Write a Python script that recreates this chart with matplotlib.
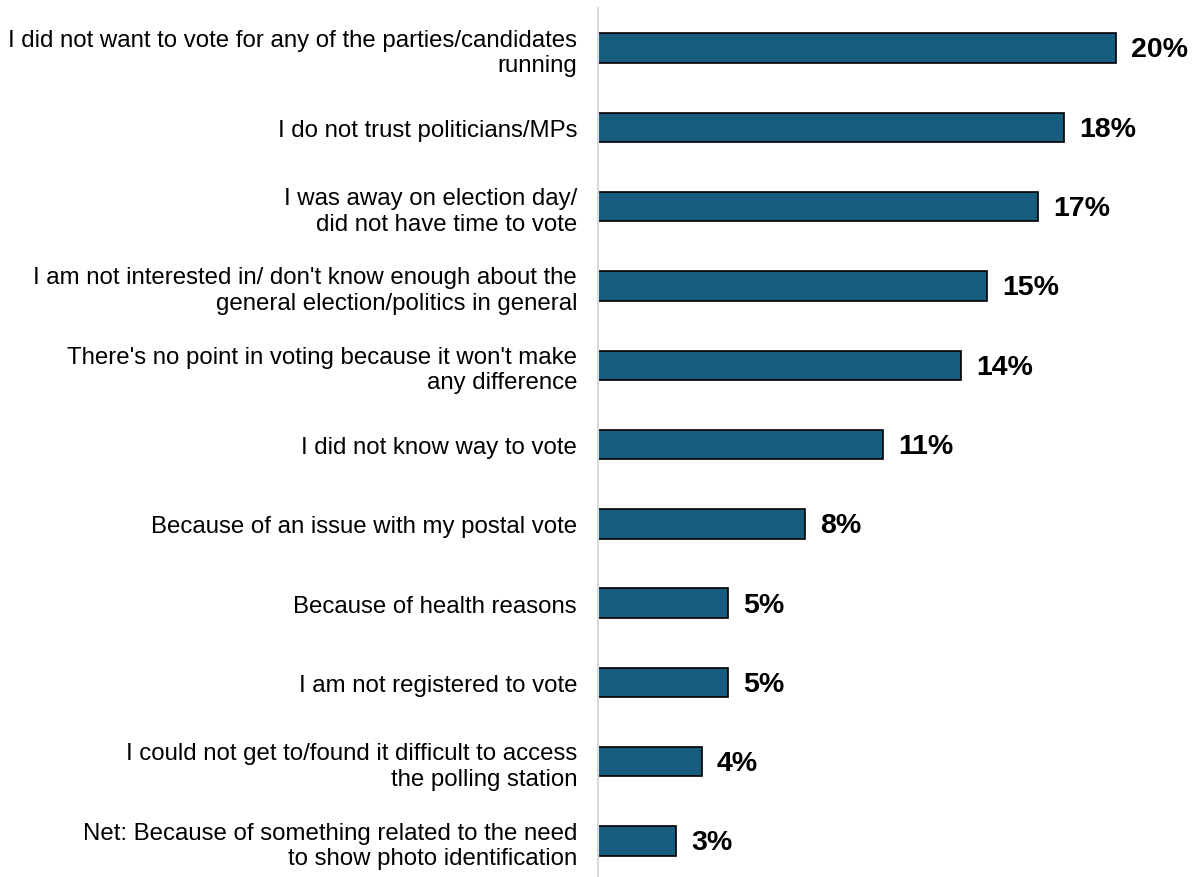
import matplotlib
matplotlib.use('Agg')
import matplotlib.pyplot as plt

# reasons for not voting, top to bottom
reasons = [
    "I did not want to vote for any of the parties/candidates\nrunning",
    "I do not trust politicians/MPs",
    "I was away on election day/\ndid not have time to vote",
    "I am not interested in/ don't know enough about the\ngeneral election/politics in general",
    "There's no point in voting because it won't make\nany difference",
    "I did not know way to vote",
    "Because of an issue with my postal vote",
    "Because of health reasons",
    "I am not registered to vote",
    "I could not get to/found it difficult to access\nthe polling station",
    "Net: Because of something related to the need\nto show photo identification",
]
shares = [20, 18, 17, 15, 14, 11, 8, 5, 5, 4, 3]

plt.rcParams['font.family'] = ['Liberation Sans', 'DejaVu Sans']

fig = plt.figure(figsize=(11.94, 8.78), dpi=100)
ax = fig.add_axes([0.5008, -0.0042, 0.4774, 0.9935])

ypos = list(range(len(shares)))
ax.barh(ypos, shares, height=0.37, color='#175E7E', edgecolor='black',
        linewidth=1.2)
ax.set_ylim(len(shares) - 0.5, -0.5)
ax.set_xlim(0, 22)

for y, v in zip(ypos, shares):
    ax.annotate(f'{v}%', (v, y), xytext=(11, -1), textcoords='offset points',
                va='center', ha='left', fontsize=20.5, fontweight='bold')

ax.set_yticks(ypos)
ax.set_yticklabels(reasons, fontsize=17.3, ha='right')
ax.tick_params(axis='y', length=0, pad=15)
ax.set_xticks([])
for side in ['top', 'right', 'bottom']:
    ax.spines[side].set_visible(False)
ax.spines['left'].set_color('#d9d9d9')
ax.spines['left'].set_linewidth(1.5)

fig.savefig('out.png', dpi=100)
